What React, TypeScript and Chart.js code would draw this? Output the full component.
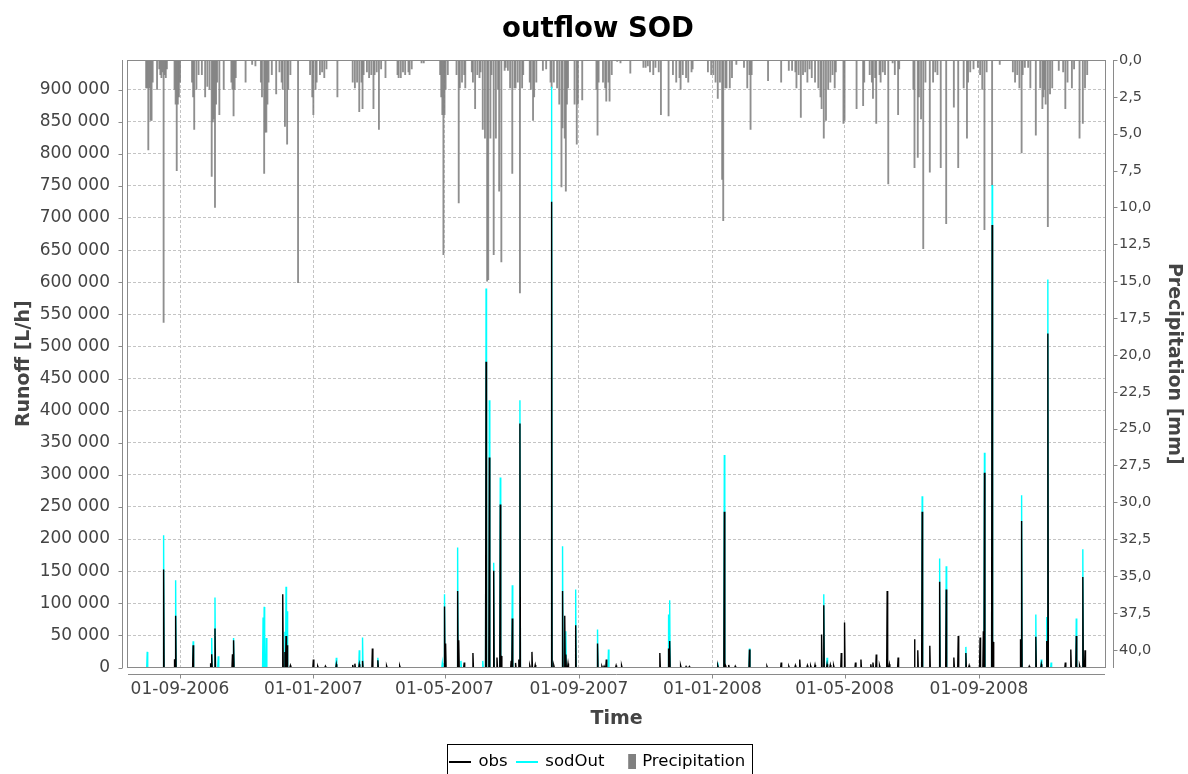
import React, { useEffect, useRef } from 'react';
import { Chart, registerables } from 'chart.js';

Chart.register(...registerables);

const FONT = '"DejaVu Sans", Verdana, sans-serif';

// ---- axis ranges and tick labels ----
const xStart = '2006-07-15T10:00';
const xEnd = '2008-12-25T07:00';
const xTickDates = ['2006-09-01', '2007-01-01', '2007-05-01', '2007-09-01', '2008-01-01', '2008-05-01', '2008-09-01'];
const runoffMax = 946000;
const runoffTicks = [0, 50000, 100000, 150000, 200000, 250000, 300000, 350000, 400000, 450000, 500000, 550000, 600000, 650000, 700000, 750000, 800000, 850000, 900000];
const precipMax = 41.2;
const precipTicks = [0, 2.5, 5, 7.5, 10, 12.5, 15, 17.5, 20, 22.5, 25, 27.5, 30, 32.5, 35, 37.5, 40];

// ---- runoff events (peaks in L/h) ----
const eventDates = [
  '2006-08-02', '2006-08-17', '2006-08-27', '2006-08-28', '2006-09-13', '2006-09-29', '2006-09-30', '2006-10-03', '2006-10-06', '2006-10-19',
  '2006-10-20', '2006-11-16', '2006-11-17', '2006-11-19', '2006-12-04', '2006-12-06', '2006-12-07', '2006-12-08', '2006-12-11', '2007-01-01',
  '2007-01-05', '2007-01-12', '2007-01-22', '2007-02-06', '2007-02-08', '2007-02-12', '2007-02-15', '2007-02-24', '2007-03-01', '2007-03-09',
  '2007-03-21', '2007-04-29', '2007-05-01', '2007-05-02', '2007-05-13', '2007-05-14', '2007-05-16', '2007-05-19', '2007-05-27', '2007-06-05',
  '2007-06-08', '2007-06-11', '2007-06-15', '2007-06-18', '2007-06-21', '2007-06-22', '2007-07-01', '2007-07-02', '2007-07-05', '2007-07-08',
  '2007-07-09', '2007-07-18', '2007-07-20', '2007-07-23', '2007-08-07', '2007-08-09', '2007-08-17', '2007-08-19', '2007-08-20', '2007-08-22',
  '2007-08-29', '2007-09-18', '2007-09-22', '2007-09-24', '2007-09-26', '2007-09-28', '2007-10-05', '2007-10-10', '2007-11-14', '2007-11-22',
  '2007-11-23', '2007-12-03', '2007-12-08', '2007-12-11', '2008-01-06', '2008-01-12', '2008-01-13', '2008-01-16', '2008-01-22', '2008-02-04',
  '2008-02-20', '2008-03-04', '2008-03-11', '2008-03-17', '2008-03-21', '2008-03-28', '2008-03-31', '2008-04-04', '2008-04-10', '2008-04-12',
  '2008-04-15', '2008-04-18', '2008-04-21', '2008-04-28', '2008-05-01', '2008-05-11', '2008-05-16', '2008-05-25', '2008-05-27', '2008-05-30',
  '2008-06-02', '2008-06-09', '2008-06-11', '2008-06-19', '2008-07-04', '2008-07-07', '2008-07-11', '2008-07-18', '2008-07-27', '2008-08-02',
  '2008-08-09', '2008-08-13', '2008-08-20', '2008-08-23', '2008-09-02', '2008-09-05', '2008-09-06', '2008-09-13', '2008-09-14', '2008-10-09',
  '2008-10-10', '2008-10-17', '2008-10-23', '2008-10-28', '2008-11-02', '2008-11-03', '2008-11-06', '2008-11-19', '2008-11-24', '2008-11-29',
  '2008-12-02', '2008-12-05', '2008-12-07',
];
const obsPeaks = [
  0, 152600, 13000, 80400, 34700, 6700, 20700, 60700, 0, 20700,
  42500, 0, 0, 0, 114200, 24300, 49200, 34700, 3000, 12400,
  2000, 2000, 5000, 4000, 6000, 5000, 10300, 29600, 11400, 2500,
  2500, 0, 95000, 37400, 119300, 42500, 0, 7800, 22700, 0,
  476000, 327100, 150500, 15600, 253900, 18100, 10300, 76300, 7200, 12400,
  380000, 3000, 24300, 4000, 725200, 3000, 119300, 80400, 20200, 6200,
  65900, 37400, 2000, 2000, 12400, 0, 3000, 3000, 22700, 29600,
  41400, 3000, 1500, 1500, 3000, 242400, 3000, 4000, 2000, 28000,
  2000, 7800, 2000, 3000, 12400, 3000, 2500, 4000, 51400, 97000,
  5000, 4000, 3000, 22700, 70100, 7800, 12400, 5000, 7800, 20200,
  3000, 119300, 5000, 15600, 44000, 27000, 242400, 33700, 133400, 121500,
  15600, 49200, 22700, 3000, 46700, 56500, 303100, 688900, 39900, 44000,
  228300, 2000, 47700, 5000, 41400, 520200, 0, 7800, 28000, 49200,
  3000, 141100, 27000,
];
const sodOutPeaks = [
  24300, 206000, 0, 136000, 41000, 0, 46000, 109000, 17600, 0,
  46000, 77900, 94400, 46000, 0, 55500, 125600, 87700, 0, 0,
  0, 0, 15000, 0, 0, 27000, 46700, 0, 15000, 0,
  0, 7200, 114200, 0, 187000, 0, 10300, 0, 0, 10300,
  590300, 416300, 163000, 0, 296000, 0, 0, 128200, 0, 0,
  416300, 0, 0, 0, 904400, 0, 189000, 0, 56500, 0,
  121500, 59200, 0, 0, 0, 28000, 0, 0, 0, 82500,
  104800, 0, 0, 0, 7800, 331000, 0, 0, 0, 29600,
  0, 0, 0, 0, 0, 0, 0, 0, 0, 114200,
  15000, 0, 0, 0, 0, 0, 0, 0, 0, 0,
  0, 0, 0, 0, 0, 0, 266800, 0, 169800, 157800,
  0, 0, 32100, 0, 0, 0, 334300, 751200, 0, 0,
  268400, 0, 82500, 12400, 78800, 604300, 7800, 0, 0, 76300,
  0, 184300, 0,
];

// ---- precipitation (mm) ----
const precipDates = [
  '2006-08-01', '2006-08-02', '2006-08-03', '2006-08-04', '2006-08-05', '2006-08-06', '2006-08-07', '2006-08-11', '2006-08-13', '2006-08-14',
  '2006-08-15', '2006-08-16', '2006-08-17', '2006-08-18', '2006-08-19', '2006-08-20', '2006-08-27', '2006-08-28', '2006-08-29', '2006-08-30',
  '2006-08-31', '2006-09-01', '2006-09-12', '2006-09-13', '2006-09-14', '2006-09-16', '2006-09-18', '2006-09-21', '2006-09-24', '2006-09-26',
  '2006-09-28', '2006-09-30', '2006-10-01', '2006-10-02', '2006-10-03', '2006-10-04', '2006-10-05', '2006-10-07', '2006-10-11', '2006-10-18',
  '2006-10-19', '2006-10-20', '2006-10-21', '2006-10-22', '2006-10-31', '2006-11-06', '2006-11-09', '2006-11-14', '2006-11-15', '2006-11-17',
  '2006-11-18', '2006-11-19', '2006-11-20', '2006-11-21', '2006-11-24', '2006-11-28', '2006-12-01', '2006-12-03', '2006-12-04', '2006-12-06',
  '2006-12-08', '2006-12-09', '2006-12-11', '2006-12-18', '2006-12-29', '2006-12-31',
  '2007-01-01', '2007-01-03', '2007-01-04', '2007-01-07', '2007-01-09', '2007-01-11', '2007-01-13', '2007-01-23', '2007-02-06', '2007-02-08',
  '2007-02-10', '2007-02-12', '2007-02-14', '2007-02-15', '2007-02-16', '2007-02-19', '2007-02-21', '2007-02-23', '2007-02-25', '2007-02-26',
  '2007-02-28', '2007-03-02', '2007-03-04', '2007-03-08', '2007-03-19', '2007-03-20', '2007-03-22', '2007-03-24', '2007-03-26', '2007-03-29',
  '2007-03-30', '2007-04-01', '2007-04-10', '2007-04-12', '2007-04-27', '2007-04-28', '2007-04-29', '2007-04-30', '2007-05-01', '2007-05-02',
  '2007-05-04', '2007-05-12', '2007-05-14', '2007-05-15', '2007-05-17', '2007-05-19', '2007-05-20', '2007-05-26', '2007-05-27', '2007-05-29',
  '2007-05-31', '2007-06-02', '2007-06-03', '2007-06-05', '2007-06-07', '2007-06-09', '2007-06-10', '2007-06-12', '2007-06-13', '2007-06-15',
  '2007-06-17', '2007-06-19', '2007-06-20', '2007-06-22', '2007-06-25', '2007-06-26', '2007-06-28', '2007-06-30', '2007-07-02', '2007-07-04',
  '2007-07-05', '2007-07-07', '2007-07-09', '2007-07-11', '2007-07-12', '2007-07-18', '2007-07-19', '2007-07-21', '2007-07-22', '2007-07-24',
  '2007-07-30', '2007-08-02', '2007-08-06', '2007-08-07', '2007-08-09', '2007-08-12', '2007-08-14', '2007-08-16', '2007-08-17', '2007-08-19',
  '2007-08-20', '2007-08-21', '2007-08-22', '2007-08-28', '2007-08-30', '2007-08-31', '2007-09-04', '2007-09-17', '2007-09-18', '2007-09-19',
  '2007-09-23', '2007-09-25', '2007-09-26', '2007-09-28', '2007-09-29', '2007-10-01', '2007-10-06', '2007-10-09', '2007-10-18', '2007-10-30',
  '2007-11-01', '2007-11-03', '2007-11-05', '2007-11-08', '2007-11-10', '2007-11-13', '2007-11-15', '2007-11-22', '2007-11-26', '2007-11-29',
  '2007-12-02', '2007-12-03', '2007-12-05', '2007-12-08', '2007-12-10', '2007-12-13', '2007-12-14', '2007-12-28', '2007-12-31',
  '2008-01-02', '2008-01-04', '2008-01-06', '2008-01-08', '2008-01-10', '2008-01-11', '2008-01-13', '2008-01-14', '2008-01-17', '2008-01-19',
  '2008-01-23', '2008-01-30', '2008-02-02', '2008-02-04', '2008-02-05', '2008-02-06', '2008-02-21', '2008-03-04', '2008-03-11', '2008-03-14',
  '2008-03-17', '2008-03-18', '2008-03-20', '2008-03-22', '2008-03-24', '2008-03-26', '2008-03-28', '2008-03-30', '2008-04-01', '2008-04-04',
  '2008-04-07', '2008-04-09', '2008-04-10', '2008-04-12', '2008-04-14', '2008-04-16', '2008-04-18', '2008-04-20', '2008-04-22', '2008-04-23',
  '2008-04-30', '2008-05-01', '2008-05-12', '2008-05-18', '2008-05-19', '2008-05-24', '2008-05-26', '2008-05-27', '2008-05-29', '2008-05-30',
  '2008-06-02', '2008-06-03', '2008-06-05', '2008-06-07', '2008-06-10', '2008-06-14', '2008-06-16', '2008-06-19', '2008-06-20', '2008-07-03',
  '2008-07-04', '2008-07-07', '2008-07-08', '2008-07-10', '2008-07-12', '2008-07-14', '2008-07-18', '2008-07-21', '2008-07-23', '2008-07-25',
  '2008-07-28', '2008-08-02', '2008-08-09', '2008-08-13', '2008-08-18', '2008-08-21', '2008-08-22', '2008-08-24', '2008-08-27', '2008-08-31',
  '2008-09-02', '2008-09-04', '2008-09-06', '2008-09-08', '2008-09-13', '2008-09-20', '2008-10-02', '2008-10-04', '2008-10-06', '2008-10-08',
  '2008-10-10', '2008-10-11', '2008-10-13', '2008-10-16', '2008-10-18', '2008-10-23', '2008-10-27', '2008-10-29', '2008-10-30', '2008-10-31',
  '2008-11-01', '2008-11-03', '2008-11-05', '2008-11-07', '2008-11-13', '2008-11-17', '2008-11-19', '2008-11-21', '2008-11-25', '2008-11-27',
  '2008-12-02', '2008-12-05', '2008-12-07', '2008-12-09',
];
const precipMm = [
  1.9, 1.9, 6.1, 1.9, 4.1, 4.1, 1.5, 2.0, 0.6, 1.0,
  1.2, 0.8, 17.8, 1.0, 1.2, 0.6, 2.0, 3.0, 7.5, 3.0,
  2.5, 1.5, 1.5, 2.5, 4.7, 2.0, 1.0, 1.0, 2.5, 1.8,
  2.0, 7.9, 4.2, 4.0, 10.0, 3.0, 1.5, 3.7, 2.0, 1.5,
  2.0, 3.8, 2.0, 1.2, 1.5, 0.3, 0.4, 1.5, 2.5, 7.7,
  4.9, 4.9, 3.0, 1.5, 1.0, 2.3, 0.8, 1.5, 2.0, 4.5,
  5.7, 2.0, 1.0, 15.1, 1.0, 2.5,
  3.7, 2.0, 1.5, 1.0, 0.8, 1.2, 0.6, 2.5, 1.5, 1.9,
  1.5, 3.5, 1.5, 3.3, 1.0, 0.8, 1.2, 1.0, 3.3, 1.0,
  0.8, 4.7, 0.6, 1.2, 1.0, 1.2, 1.2, 0.8, 1.0, 0.8,
  1.0, 0.6, 0.2, 0.2, 1.0, 2.5, 3.7, 13.2, 3.7, 2.0,
  1.0, 1.0, 9.7, 1.9, 1.5, 1.0, 1.9, 0.8, 1.5, 3.3,
  1.0, 1.2, 0.8, 4.7, 5.3, 15.0, 14.9, 5.3, 1.0, 13.2,
  5.3, 2.0, 8.9, 13.7, 0.7, 0.5, 0.7, 1.9, 7.7, 1.9,
  1.9, 1.5, 15.8, 1.9, 1.0, 1.5, 2.0, 4.1, 2.5, 1.5,
  0.7, 0.6, 1.5, 1.9, 1.5, 1.9, 3.0, 8.6, 4.6, 5.3,
  8.9, 3.0, 1.9, 3.0, 5.7, 3.0, 2.7, 2.0, 5.1, 1.5,
  1.5, 1.9, 2.8, 1.5, 2.8, 1.0, 0.1, 0.2, 0.9, 0.5,
  0.5, 0.4, 0.8, 1.0, 0.5, 0.8, 3.7, 3.8, 1.0, 1.5,
  1.2, 2.0, 1.0, 1.2, 1.5, 0.8, 0.6, 0.8, 1.0,
  1.0, 1.5, 2.6, 1.5, 8.1, 10.9, 1.9, 1.9, 1.9, 1.2,
  0.3, 0.5, 1.9, 1.0, 4.7, 1.0, 1.4, 1.5, 0.7, 0.7,
  0.8, 1.9, 1.0, 3.9, 1.0, 0.8, 1.5, 0.6, 1.2, 1.5,
  1.9, 2.5, 3.3, 5.3, 4.1, 2.0, 1.5, 1.0, 1.9, 0.8,
  4.3, 4.1, 3.3, 3.1, 1.5, 1.0, 1.5, 2.6, 1.2, 4.3,
  1.0, 1.5, 0.8, 1.0, 8.4, 0.2, 1.0, 3.7, 0.6, 2.0,
  7.3, 6.6, 2.5, 4.0, 12.8, 1.5, 7.6, 1.5, 0.8, 1.0,
  7.3, 11.1, 3.2, 7.3, 1.9, 5.3, 1.5, 0.8, 0.6, 0.5,
  1.0, 2.0, 11.5, 0.8, 8.5, 0.3, 0.8, 1.5, 1.0, 1.9,
  6.3, 1.0, 0.5, 0.5, 1.9, 5.1, 1.9, 3.3, 2.5, 2.0,
  3.0, 11.3, 2.3, 1.9, 0.7, 0.8, 3.3, 1.5, 1.9, 0.6,
  5.3, 4.3, 1.9, 1.0,
];

// ---- helpers ----
const DAY = 86400000;
const ms = (s: string) => Date.parse(s.length === 10 ? s + 'T00:00:00Z' : s + ':00Z');
const pad2 = (n: number) => String(n).padStart(2, '0');
const fmtDate = (v: number) => {
  const d = new Date(v);
  return `${pad2(d.getUTCDate())}-${pad2(d.getUTCMonth() + 1)}-${d.getUTCFullYear()}`;
};
const fmtThousands = (v: number) => String(Math.round(v)).replace(/\B(?=(\d{3})+(?!\d))/g, ' ');
const fmtMm = (v: number) => v.toFixed(1).replace('.', ',');

function spikes(dates: string[], vals: number[]) {
  const half = 0.45 * DAY;
  const pts: { x: number; y: number | null }[] = [];
  dates.forEach((d, i) => {
    const v = vals[i];
    if (!v) return;
    const t = ms(d);
    pts.push({ x: t - half, y: 0 }, { x: t, y: v }, { x: t + half, y: 0 }, { x: t + half + 1000, y: null });
  });
  return pts;
}

function swatch(w: number, h: number, color: string, rx = 0, rw = w) {
  const c = document.createElement('canvas');
  c.width = w;
  c.height = h;
  const g = c.getContext('2d')!;
  g.fillStyle = color;
  g.fillRect(rx, 0, rw, h);
  return c;
}

const decoPlugin = {
  id: 'deco',
  afterDraw(chart: any) {
    const { ctx, chartArea: a, scales } = chart;
    ctx.save();
    ctx.lineWidth = 1;
    ctx.strokeStyle = '#8a8a8a';
    const L = Math.round(a.left), R = Math.round(a.right), T = Math.round(a.top), B = Math.round(a.bottom);
    ctx.strokeRect(L - 0.5, T + 0.5, R - L + 1, B - T - 1);
    ctx.beginPath();
    const lx = L - 6 + 0.5;
    ctx.moveTo(lx, T); ctx.lineTo(lx, B);
    scales.y.ticks.forEach((t: any) => {
      const y = Math.round(scales.y.getPixelForValue(t.value)) + 0.5;
      ctx.moveTo(lx - 4, y); ctx.lineTo(lx, y);
    });
    const rx = R + 8 + 0.5;
    ctx.moveTo(rx, T); ctx.lineTo(rx, B);
    scales.y2.ticks.forEach((t: any) => {
      const y = Math.round(scales.y2.getPixelForValue(t.value)) + 0.5;
      ctx.moveTo(rx, y); ctx.lineTo(rx + 4, y);
    });
    const by = B + 6 + 0.5;
    ctx.moveTo(L, by); ctx.lineTo(R, by);
    scales.x.ticks.forEach((t: any) => {
      const x = Math.round(scales.x.getPixelForValue(t.value)) + 0.5;
      ctx.moveTo(x, by); ctx.lineTo(x, by + 4);
    });
    ctx.stroke();
    const hb = chart.legend && chart.legend.legendHitBoxes;
    if (hb && hb.length) {
      const first = hb[0], last = hb[hb.length - 1];
      const l = Math.round(first.left - 4) + 0.5;
      const r = Math.round(last.left + last.width + 7) + 0.5;
      const t = Math.round(first.top - 10) + 0.5;
      ctx.strokeStyle = '#000';
      ctx.strokeRect(l, t, r - l, 60);
    }
    ctx.restore();
  },
};

export default function App() {
  const ref = useRef<HTMLCanvasElement>(null);

  useEffect(() => {
    if (!ref.current) return;
    const obsIcon = swatch(22, 2, '#000000');
    const simIcon = swatch(22, 2, '#00ffff');
    const preIcon = swatch(24, 15, '#808080', 16, 8);

    const chart = new Chart(ref.current, {
      type: 'bar',
      data: {
        datasets: [
          {
            type: 'line',
            label: 'obs',
            data: spikes(eventDates, obsPeaks) as any,
            borderColor: '#000000',
            backgroundColor: '#000000',
            borderWidth: 1.4,
            pointRadius: 0,
            tension: 0,
            spanGaps: false,
            yAxisID: 'y',
          },
          {
            type: 'line',
            label: 'sodOut',
            data: spikes(eventDates, sodOutPeaks) as any,
            borderColor: '#00ffff',
            backgroundColor: '#00ffff',
            borderWidth: 1.4,
            pointRadius: 0,
            tension: 0,
            spanGaps: false,
            yAxisID: 'y',
          },
          {
            type: 'bar',
            label: 'Precipitation',
            data: precipDates.map((d, i) => ({ x: ms(d), y: precipMm[i] })) as any,
            backgroundColor: 'rgba(128,128,128,0.88)',
            borderWidth: 0,
            barThickness: 1.2,
            grouped: false,
            yAxisID: 'y2',
          },
        ],
      },
      options: {
        animation: false,
        responsive: false,
        devicePixelRatio: 1,
        events: [],
        layout: { padding: { left: 8, right: 0, top: 0, bottom: -6 } },
        plugins: {
          tooltip: { enabled: false },
          title: {
            display: true,
            text: 'outflow SOD',
            color: '#000000',
            font: { family: FONT, size: 27.5, weight: 'bold', lineHeight: 1.2 },
            padding: { top: 13.5, bottom: 13.5 },
          },
          legend: {
            display: true,
            position: 'bottom',
            labels: {
              usePointStyle: true,
              pointStyleWidth: 19.5,
              padding: 10,
              color: '#333333',
              font: { family: FONT, size: 16.5 },
              generateLabels: () => [
                { text: 'obs', pointStyle: obsIcon, fillStyle: '#000', strokeStyle: '#000', lineWidth: 0, hidden: false, datasetIndex: 0 },
                { text: 'sodOut', pointStyle: simIcon, fillStyle: '#0ff', strokeStyle: '#0ff', lineWidth: 0, hidden: false, datasetIndex: 1 },
                { text: 'Precipitation', pointStyle: preIcon, fillStyle: '#808080', strokeStyle: '#808080', lineWidth: 0, hidden: false, datasetIndex: 2 },
              ] as any,
            },
          },
        },
        scales: {
          x: {
            type: 'linear',
            min: ms(xStart),
            max: ms(xEnd),
            offset: false,
            grid: { display: true, color: '#c4c4c4', lineWidth: 1, drawTicks: false, offset: false },
            border: { display: false, dash: [3, 2] },
            ticks: {
              color: '#444444',
              font: { family: FONT, size: 17 },
              padding: 12,
              autoSkip: false,
              maxRotation: 0,
              callback: (v: any) => fmtDate(Number(v)),
            },
            afterBuildTicks: (s: any) => {
              s.ticks = xTickDates.map((d) => ({ value: ms(d) }));
            },
            afterFit: (s: any) => {
              s.height = 76;
            },
            title: {
              display: true,
              text: 'Time',
              color: '#444444',
              font: { family: FONT, size: 19, weight: 'bold', lineHeight: 1.2 },
              padding: { top: 0, bottom: 13 },
            },
          },
          y: {
            type: 'linear',
            position: 'left',
            min: 0,
            max: runoffMax,
            grid: { display: true, color: '#c4c4c4', lineWidth: 1, drawTicks: false },
            border: { display: false, dash: [3, 2] },
            ticks: {
              color: '#444444',
              font: { family: FONT, size: 17 },
              padding: 18,
              autoSkip: false,
              callback: (v: any) => fmtThousands(Number(v)),
            },
            afterBuildTicks: (s: any) => {
              s.ticks = runoffTicks.map((v) => ({ value: v }));
            },
            afterFit: (s: any) => {
              s.width = 120;
            },
            title: {
              display: true,
              text: 'Runoff [L/h]',
              color: '#444444',
              font: { family: FONT, size: 19, weight: 'bold', lineHeight: 1.2 },
              padding: { top: 4.6, bottom: 0 },
            },
          },
          y2: {
            type: 'linear',
            position: 'right',
            reverse: true,
            min: 0,
            max: precipMax,
            grid: { display: false, drawTicks: false },
            border: { display: false },
            ticks: {
              color: '#444444',
              font: { family: FONT, size: 14.5 },
              padding: 14,
              autoSkip: false,
              callback: (v: any) => fmtMm(Number(v)),
            },
            afterBuildTicks: (s: any) => {
              s.ticks = precipTicks.map((v) => ({ value: v }));
            },
            afterFit: (s: any) => {
              s.width = 83;
            },
            title: {
              display: true,
              text: 'Precipitation [mm]',
              color: '#444444',
              font: { family: FONT, size: 19, weight: 'bold', lineHeight: 1.2 },
              padding: { top: 2.6, bottom: 0 },
            },
          },
        },
      } as any,
      plugins: [decoPlugin],
    });
    return () => chart.destroy();
  }, []);

  return (
    <div style={{ position: 'fixed', left: 0, top: 0, width: 1188, height: 774, background: '#ffffff' }}>
      <canvas ref={ref} width={1188} height={774} style={{ display: 'block', width: 1188, height: 774 }} />
    </div>
  );
}
